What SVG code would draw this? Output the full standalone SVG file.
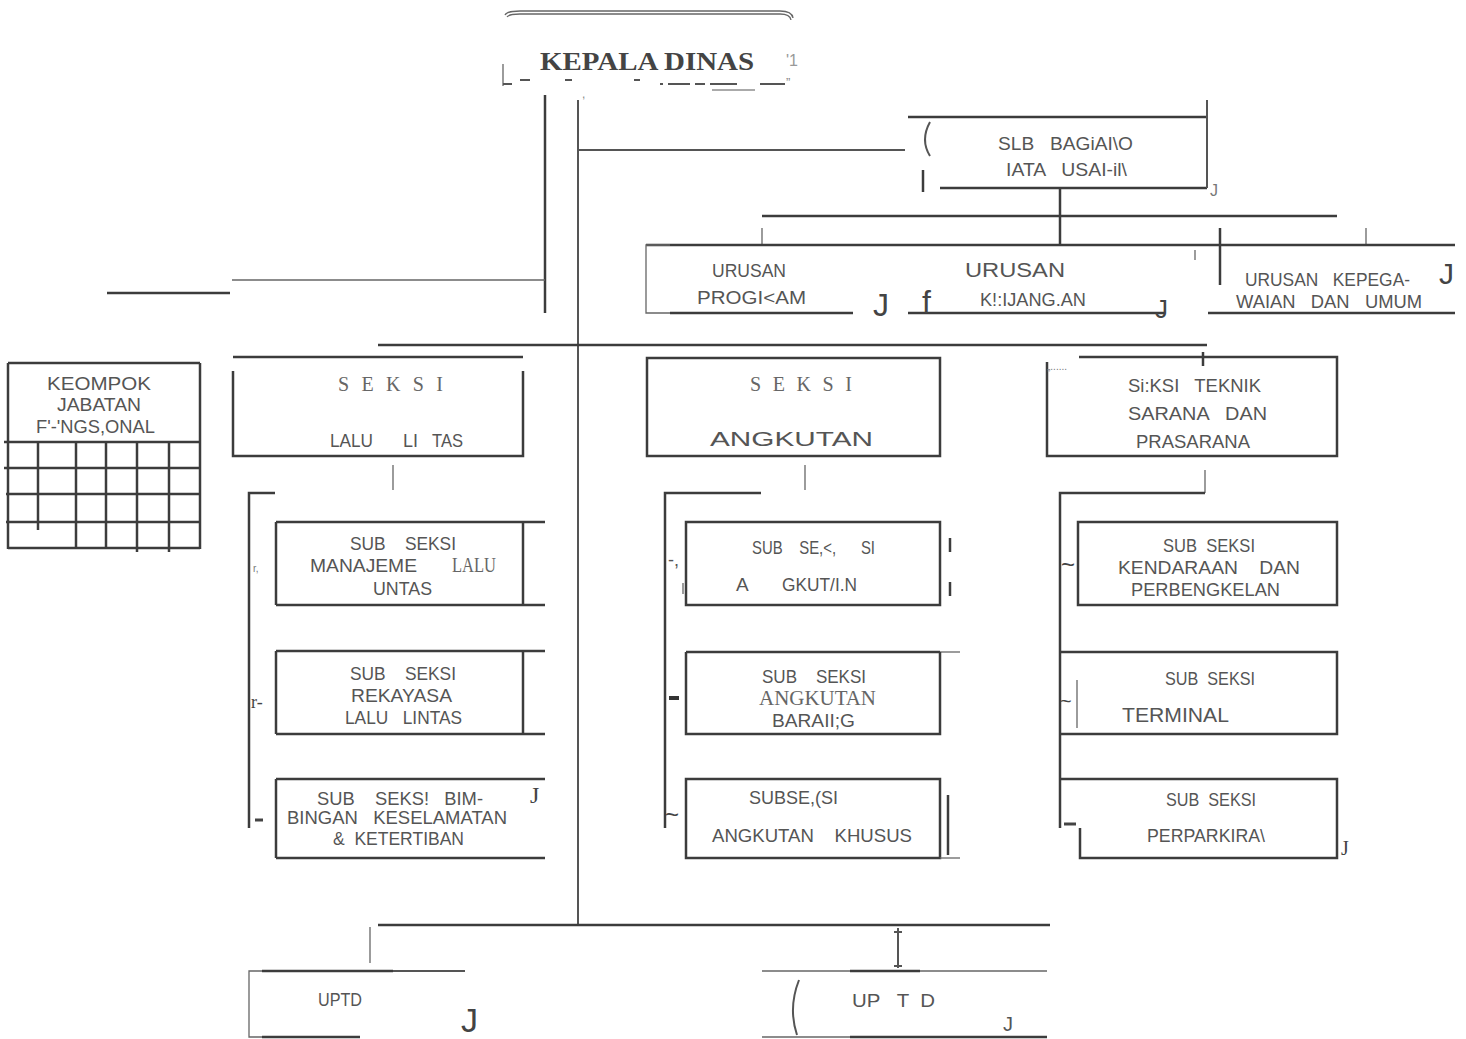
<svg xmlns="http://www.w3.org/2000/svg" width="1466" height="1039" viewBox="0 0 1466 1039">
<style>
.ln{stroke:#3c3c3c;stroke-width:2.5;fill:none}
.lm{stroke:#555;stroke-width:2;fill:none}
.lt{stroke:#666;stroke-width:1.3;fill:none}
text{white-space:pre}
.t{font-family:"Liberation Sans",Arial,sans-serif;font-size:18px;fill:#555}
.s{font-family:"Liberation Serif","Times New Roman",serif;font-size:20px;fill:#666}
.m{font-family:"Liberation Serif","Times New Roman",serif;font-size:26px;font-weight:bold;fill:#444}
.a{fill:#444}
</style>
<rect width="1466" height="1039" fill="#fff"/>
<g id="connectors">
<line class="ln" x1="545" y1="95" x2="545" y2="313"/>
<line class="lt" x1="232" y1="280" x2="545" y2="280"/>
<line class="ln" x1="107" y1="293" x2="230" y2="293" stroke-width="3"/>
<line class="lm" x1="578" y1="100" x2="578" y2="925"/>
<line class="lm" x1="578" y1="150" x2="905" y2="150"/>
<line class="ln" x1="1060" y1="188" x2="1060" y2="245"/>
<line class="ln" x1="762" y1="216" x2="1337" y2="216"/>
<line class="lt" x1="762" y1="228" x2="762" y2="245"/>
<line class="lt" x1="1366" y1="228" x2="1366" y2="245"/>
<line class="ln" x1="1220" y1="228" x2="1220" y2="285" stroke-width="3"/>
<line class="ln" x1="378" y1="345" x2="1207" y2="345"/>
<line class="ln" x1="1203" y1="352" x2="1203" y2="366"/>
<line class="lt" x1="393" y1="465" x2="393" y2="490"/>
<line class="lt" x1="805" y1="465" x2="805" y2="490"/>
<line class="lt" x1="1205" y1="470" x2="1205" y2="493"/>
<polyline class="ln" points="275,493 249,493 249,828"/>
<polyline class="ln" points="761,493 665,493 665,828"/>
<polyline class="ln" points="1205,493 1060,493 1060,828"/>
<line class="ln" x1="378" y1="925" x2="1050" y2="925"/>
<line class="lt" x1="370" y1="927" x2="370" y2="963"/>
<line class="lm" x1="898" y1="928" x2="898" y2="968"/>
<line class="lm" x1="894" y1="932" x2="902" y2="932"/>
<line class="lm" x1="894" y1="966" x2="902" y2="966"/>
</g>
<g id="kepala-dinas">
<path d="M505 15 Q507 11 520 11 L780 11 Q792 11 793 18" class="lt"/>
<path d="M507 17 Q509 14 520 14 L780 14 Q790 14 791 20" class="lt" stroke="#aaa"/>
<text class="m" x="540" y="70" textLength="214" lengthAdjust="spacingAndGlyphs">KEPALA DINAS</text>
<text class="t" x="786" y="66" style="font-size:16px;fill:#999">'1</text>
<line class="lt" x1="503" y1="64" x2="503" y2="86" stroke="#aaa"/>
<g class="lm" stroke="#777">
<line x1="503" y1="84" x2="512" y2="84"/><line x1="520" y1="80" x2="530" y2="80"/>
<line x1="565" y1="80" x2="572" y2="80"/><line x1="634" y1="80" x2="640" y2="80"/>
<line x1="660" y1="84" x2="663" y2="84"/><line x1="668" y1="84" x2="690" y2="84"/>
<line x1="695" y1="84" x2="705" y2="84"/><line x1="710" y1="84" x2="737" y2="84"/>
<line x1="760" y1="84" x2="785" y2="84"/>
</g>
<line x1="712" y1="90" x2="755" y2="90" stroke="#aaa" stroke-width="2"/>
<text class="t" x="786" y="87" style="font-size:13px;fill:#888">”</text>
<text class="t" x="582" y="98" style="font-size:12px;fill:#888">,</text>
</g>
<g id="sub-bagian-tata-usaha">
<line class="ln" x1="908" y1="117" x2="1207" y2="117"/>
<line class="ln" x1="940" y1="188" x2="1207" y2="188"/>
<line class="lm" x1="1207" y1="100" x2="1207" y2="188"/>
<path d="M930 122 Q920 140 930 156" class="lm"/>
<line class="ln" x1="923" y1="170" x2="923" y2="192"/>
<text class="t" x="1210" y="196" style="font-size:16px;fill:#777">J</text>
<text class="t" x="998" y="150" textLength="135" lengthAdjust="spacingAndGlyphs">SLB   BAGiAI\O</text>
<text class="t" x="1006" y="176" textLength="121" lengthAdjust="spacingAndGlyphs">IATA   USAI-il\</text>
</g>
<g id="urusan-program">
<line class="ln" x1="646" y1="245" x2="1455" y2="245"/>
<polyline class="lt" points="670,245 646,245 646,313 670,313"/>
<line class="ln" x1="670" y1="313" x2="853" y2="313"/>
<text class="t" x="712" y="277" textLength="74" lengthAdjust="spacingAndGlyphs">URUSAN</text>
<text class="t" x="697" y="304" textLength="109" lengthAdjust="spacingAndGlyphs">PROGI&lt;AM</text>
<text class="t a" x="873" y="316" style="font-size:32px">J</text>
</g>
<g id="urusan-keuangan">
<line class="ln" x1="908" y1="313" x2="1165" y2="313"/>
<text class="t a" x="922" y="313" style="font-size:32px">f</text>
<text class="t" x="965" y="277" style="font-size:21px" textLength="100" lengthAdjust="spacingAndGlyphs">URUSAN</text>
<text class="t" x="980" y="306" textLength="106" lengthAdjust="spacingAndGlyphs">K!:IJANG.AN</text>
<text class="t a" x="1155" y="318" style="font-size:26px">J</text>
<line class="lt" x1="1195" y1="250" x2="1195" y2="260"/>
</g>
<g id="urusan-kepegawaian">
<line class="ln" x1="1208" y1="313" x2="1455" y2="313"/>
<text class="t" x="1245" y="286" textLength="165" lengthAdjust="spacingAndGlyphs">URUSAN   KEPEGA-</text>
<text class="t" x="1236" y="308" textLength="186" lengthAdjust="spacingAndGlyphs">WAIAN   DAN   UMUM</text>
<text class="t a" x="1439" y="284" style="font-size:30px">J</text>
</g>
<g id="kelompok-jabatan-fungsional">
<g class="ln">
<line x1="8" y1="363" x2="200" y2="363"/>
<line x1="8" y1="363" x2="8" y2="549"/>
<line x1="200" y1="363" x2="200" y2="549"/>
<line x1="4" y1="442" x2="200" y2="442"/>
<line x1="4" y1="468" x2="200" y2="468"/>
<line x1="6" y1="494" x2="200" y2="494"/>
<line x1="6" y1="522" x2="200" y2="522"/>
<line x1="8" y1="548" x2="200" y2="548"/>
<line x1="38" y1="442" x2="38" y2="530"/>
<line x1="76" y1="442" x2="76" y2="549"/>
<line x1="106" y1="442" x2="106" y2="549"/>
<line x1="137" y1="442" x2="137" y2="552"/>
<line x1="169" y1="442" x2="169" y2="552"/>
</g>
<text class="t" x="47" y="390" textLength="104" lengthAdjust="spacingAndGlyphs">KEOMPOK</text>
<text class="t" x="57" y="411" textLength="84" lengthAdjust="spacingAndGlyphs">JABATAN</text>
<text class="t" x="36" y="433" textLength="119" lengthAdjust="spacingAndGlyphs">F'-'NGS,ONAL</text>
</g>
<g id="seksi-lalu-lintas">
<line class="ln" x1="233" y1="357" x2="523" y2="357"/>
<polyline class="ln" points="233,371 233,456 523,456 523,371"/>
<text class="s" x="338" y="391" textLength="105" lengthAdjust="spacing">S E K S I</text>
<text class="t" x="330" y="447" textLength="43" lengthAdjust="spacingAndGlyphs">LALU</text>
<text class="t" x="403" y="447" textLength="15" lengthAdjust="spacingAndGlyphs">LI</text>
<text class="t" x="432" y="447" textLength="31" lengthAdjust="spacingAndGlyphs">TAS</text>
</g>
<g id="seksi-angkutan">
<rect class="ln" x="647" y="358" width="293" height="98"/>
<text class="s" x="750" y="391" textLength="102" lengthAdjust="spacing">S E K S I</text>
<text class="t" x="710" y="446" style="font-size:21px" textLength="163" lengthAdjust="spacingAndGlyphs">ANGKUTAN</text>
</g>
<g id="seksi-teknik">
<polyline class="ln" points="1079,357 1337,357 1337,456 1047,456 1047,362"/>
<text class="t" x="1047" y="370" style="font-size:10px;fill:#777">„......</text>
<text class="t" x="1128" y="392" textLength="133" lengthAdjust="spacingAndGlyphs">Si:KSI   TEKNIK</text>
<text class="t" x="1128" y="420" textLength="139" lengthAdjust="spacingAndGlyphs">SARANA   DAN</text>
<text class="t" x="1136" y="448" textLength="114" lengthAdjust="spacingAndGlyphs">PRASARANA</text>
</g>
<g id="sub-seksi-manajemen">
<line class="ln" x1="276" y1="522" x2="545" y2="522"/>
<line class="ln" x1="276" y1="605" x2="545" y2="605"/>
<line class="ln" x1="276" y1="522" x2="276" y2="605"/>
<line class="ln" x1="523" y1="522" x2="523" y2="605"/>
<text class="t" x="253" y="572" style="font-size:10px;fill:#777">r,</text>
<text class="t" x="350" y="550" textLength="106" lengthAdjust="spacingAndGlyphs">SUB    SEKSI</text>
<text class="t" x="310" y="572" textLength="107" lengthAdjust="spacingAndGlyphs">MANAJEME</text>
<text class="s" x="452" y="572" textLength="44" lengthAdjust="spacingAndGlyphs">LALU</text>
<text class="t" x="373" y="595" textLength="59" lengthAdjust="spacingAndGlyphs">UNTAS</text>
</g>
<g id="sub-seksi-rekayasa">
<line class="ln" x1="276" y1="651" x2="545" y2="651"/>
<line class="ln" x1="276" y1="734" x2="545" y2="734"/>
<line class="ln" x1="276" y1="651" x2="276" y2="734"/>
<line class="ln" x1="523" y1="651" x2="523" y2="734"/>
<text class="s a" x="251" y="708" style="font-size:18px">r-</text>
<text class="t" x="350" y="680" textLength="106" lengthAdjust="spacingAndGlyphs">SUB    SEKSI</text>
<text class="t" x="351" y="702" textLength="101" lengthAdjust="spacingAndGlyphs">REKAYASA</text>
<text class="t" x="345" y="724" textLength="117" lengthAdjust="spacingAndGlyphs">LALU   LINTAS</text>
</g>
<g id="sub-seksi-bimbingan">
<line class="ln" x1="276" y1="779" x2="545" y2="779" stroke-width="3"/>
<line class="ln" x1="276" y1="858" x2="545" y2="858"/>
<line class="ln" x1="276" y1="779" x2="276" y2="858"/>
<line x1="255" y1="820" x2="263" y2="820" stroke="#444" stroke-width="3"/>
<text class="s a" x="530" y="803" style="font-size:24px">J</text>
<text class="t" x="317" y="805" textLength="166" lengthAdjust="spacingAndGlyphs">SUB    SEKS!   BIM-</text>
<text class="t" x="287" y="824" textLength="220" lengthAdjust="spacingAndGlyphs">BINGAN   KESELAMATAN</text>
<text class="t" x="333" y="845" textLength="131" lengthAdjust="spacingAndGlyphs">&amp;  KETERTIBAN</text>
</g>
<g id="sub-seksi-angkutan-1">
<rect class="ln" x="686" y="522" width="254" height="83"/>
<text class="t" x="668" y="566" style="font-size:18px">-,</text>
<line class="lt" x1="683" y1="583" x2="683" y2="594"/>
<line class="ln" x1="950" y1="538" x2="950" y2="552"/>
<line class="ln" x1="950" y1="582" x2="950" y2="596"/>
<text class="t" x="752" y="554" textLength="123" lengthAdjust="spacingAndGlyphs">SUB    SE,&lt;,      SI</text>
<text class="t" x="736" y="591" style="font-size:19px">A</text>
<text class="t" x="782" y="591" textLength="75" lengthAdjust="spacingAndGlyphs">GKUT/I.N</text>
</g>
<g id="sub-seksi-angkutan-barang">
<line class="ln" x1="686" y1="652" x2="940" y2="652"/>
<line class="lt" x1="940" y1="652" x2="960" y2="652"/>
<polyline class="ln" points="686,652 686,734 940,734 940,652"/>
<line x1="669" y1="698" x2="679" y2="698" stroke="#333" stroke-width="4"/>
<text class="t" x="762" y="683" textLength="104" lengthAdjust="spacingAndGlyphs">SUB    SEKSI</text>
<text class="s" x="759" y="705" textLength="117" lengthAdjust="spacingAndGlyphs">ANGKUTAN</text>
<text class="t" x="772" y="727" textLength="83" lengthAdjust="spacingAndGlyphs">BARAII;G</text>
</g>
<g id="sub-seksi-angkutan-khusus">
<rect class="ln" x="686" y="779" width="254" height="79"/>
<line class="lt" x1="940" y1="858" x2="960" y2="858"/>
<line class="ln" x1="948" y1="795" x2="948" y2="855"/>
<text class="t a" x="665" y="823" style="font-size:24px">~</text>
<text class="t" x="749" y="804" textLength="89" lengthAdjust="spacingAndGlyphs">SUBSE,(SI</text>
<text class="t" x="712" y="842" textLength="200" lengthAdjust="spacingAndGlyphs">ANGKUTAN    KHUSUS</text>
</g>
<g id="sub-seksi-kendaraan">
<rect class="ln" x="1078" y="522" width="259" height="83"/>
<text class="t a" x="1061" y="573" style="font-size:24px">~</text>
<text class="t" x="1163" y="552" textLength="92" lengthAdjust="spacingAndGlyphs">SUB  SEKSI</text>
<text class="t" x="1118" y="574" textLength="182" lengthAdjust="spacingAndGlyphs">KENDARAAN    DAN</text>
<text class="t" x="1131" y="596" textLength="149" lengthAdjust="spacingAndGlyphs">PERBENGKELAN</text>
</g>
<g id="sub-seksi-terminal">
<polyline class="ln" points="1060,652 1337,652 1337,734 1060,734"/>
<line class="lt" x1="1077" y1="680" x2="1077" y2="728"/>
<text class="t a" x="1060" y="708" style="font-size:20px">~</text>
<text class="t" x="1165" y="685" textLength="90" lengthAdjust="spacingAndGlyphs">SUB  SEKSI</text>
<text class="t" x="1122" y="722" style="font-size:20px" textLength="107" lengthAdjust="spacingAndGlyphs">TERMINAL</text>
</g>
<g id="sub-seksi-perparkiran">
<polyline class="ln" points="1060,779 1337,779 1337,858 1080,858 1080,828"/>
<line x1="1064" y1="824" x2="1076" y2="824" stroke="#444" stroke-width="3"/>
<text class="s a" x="1341" y="855" style="font-size:20px">J</text>
<text class="t" x="1166" y="806" textLength="90" lengthAdjust="spacingAndGlyphs">SUB  SEKSI</text>
<text class="t" x="1147" y="842" textLength="118" lengthAdjust="spacingAndGlyphs">PERPARKIRA\</text>
</g>
<g id="uptd-1">
<line class="ln" x1="262" y1="971" x2="393" y2="971"/>
<line class="lm" x1="393" y1="971" x2="465" y2="971"/>
<polyline class="lt" points="262,971 249,971 249,1037 262,1037"/>
<line class="ln" x1="262" y1="1037" x2="360" y2="1037"/>
<text class="t" x="318" y="1006" textLength="44" lengthAdjust="spacingAndGlyphs">UPTD</text>
<text class="t a" x="461" y="1032" style="font-size:34px">J</text>
</g>
<g id="uptd-2">
<line class="lt" x1="762" y1="971" x2="1047" y2="971"/>
<line class="ln" x1="850" y1="971" x2="920" y2="971"/>
<line class="lt" x1="762" y1="1037" x2="1047" y2="1037"/>
<line class="ln" x1="850" y1="1037" x2="1047" y2="1037"/>
<path d="M799 980 Q788 1008 797 1035" class="lm"/>
<text class="t" x="852" y="1007" style="font-size:19px" textLength="83" lengthAdjust="spacingAndGlyphs">UP   T  D</text>
<text class="t" x="1003" y="1031" style="font-size:20px">J</text>
</g>
</svg>
